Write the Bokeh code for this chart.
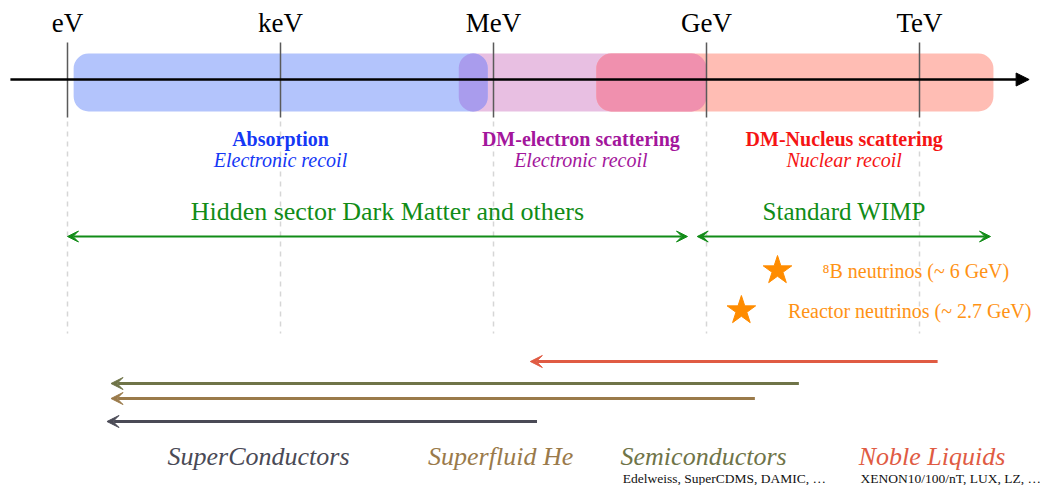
from bokeh.plotting import figure
from bokeh.models import Range1d, Arrow, NormalHead, VeeHead
from bokeh.embed import file_html
from bokeh.resources import INLINE
from bokeh.core.properties import value

# ---------------- data (energies in eV) ----------------
unit_labels = ["eV", "keV", "MeV", "GeV", "TeV"]
unit_energies = [1e0, 1e3, 1e6, 1e9, 1e12]

band_titles = ["Absorption", "DM-electron scattering", "DM-Nucleus scattering"]
band_subtitles = ["Electronic recoil", "Electronic recoil", "Nuclear recoil"]
band_lo = [1.22, 3.24e5, 2.8e7]
band_hi = [8.3e5, 1.0e9, 1.1e13]
band_label_center = [1.0e3, 1.7e7, 8.7e10]
overlap_lo = [3.24e5, 2.8e7]
overlap_hi = [8.3e5, 1.0e9]

model_labels = ["Hidden sector Dark Matter and others", "Standard WIMP"]
model_lo = [1.0, 7.4e8]
model_hi = [5.4e8, 1.0e13]
model_label_center = [3.2e4, 8.7e10]

neutrino_labels = ["\u2078B neutrinos (~ 6 GeV)", "Reactor neutrinos (~ 2.7 GeV)"]
neutrino_star = [1.0e10, 3.1e9]
neutrino_text = [4.3e10, 1.4e10]

detector_names = ["Noble Liquids", "Semiconductors", "Superfluid He", "SuperConductors"]
detector_hi = [1.8e12, 2.0e10, 4.8e9, 4.1e6]
detector_lo = [3.3e6, 4.1, 4.1, 3.6]
detector_label_center = [1.5e12, 9.1e8, 1.26e6, 490.0]
experiment_labels = ["Edelweiss, SuperCDMS, DAMIC, \u2026", "XENON10/100/nT, LUX, LZ, \u2026"]
experiment_left = [6.6e7, 1.48e11]

# ---------------- layout / style ----------------
SERIF = value("Liberation Serif")
W, H = 1040, 485
p = figure(width=W, height=H, x_axis_type="log",
           x_range=Range1d(10 ** (-67 / 71), 10 ** (973 / 71)),
           y_range=Range1d(H, 0),
           output_backend="svg", toolbar_location=None,
           min_border=0, outline_line_color=None)
p.xaxis.visible = False
p.yaxis.visible = False
p.xgrid.visible = False
p.ygrid.visible = False
p.background_fill_color = "white"

# dashed guides below the axis
p.segment(x0=unit_energies, x1=unit_energies, y0=[121] * 5, y1=[333] * 5,
          line_color="#d6d6d6", line_width=1.5, line_dash="5 5")

# bands
band_colors = ["#b3c4fc", "#e8bfe2", "#ffbdb4"]
band_order = [1, 0, 2]
p.quad(left=[band_lo[i] for i in band_order], right=[band_hi[i] for i in band_order],
       top=[53] * 3, bottom=[111] * 3,
       fill_color=[band_colors[i] for i in band_order], line_color=None, border_radius=15)
p.quad(left=overlap_lo, right=overlap_hi, top=[53] * 2, bottom=[111] * 2,
       fill_color=["#a99ced", "#f090ae"], line_color=None, border_radius=15)

# main axis
p.add_layout(Arrow(x_start=0.157, x_end=3.5e13, y_start=79, y_end=79,
                   line_color="black", line_width=2.5,
                   end=NormalHead(size=13, fill_color="black", line_color="black")))

# unit ticks
p.segment(x0=unit_energies, x1=unit_energies, y0=[42] * 5, y1=[117] * 5,
          line_color="#5a5a5a", line_width=1.5)
p.text(x=unit_energies, y=[22] * 5, text=unit_labels, text_font=SERIF,
       text_font_size="27px", text_color="black", text_align="center", text_baseline="middle")

# band descriptions
title_colors = ["#1437f5", "#a3169c", "#f51414"]
p.text(x=band_label_center, y=[138] * 3, text=band_titles, text_font=SERIF,
       text_font_style="bold", text_font_size="20px", text_color=title_colors,
       text_align="center", text_baseline="middle")
p.text(x=band_label_center, y=[159] * 3, text=band_subtitles, text_font=SERIF,
       text_font_style="italic", text_font_size="20px", text_color=title_colors,
       text_align="center", text_baseline="middle")

# model ranges
GREEN = "#118c17"
p.text(x=model_label_center, y=[211] * 2, text=model_labels, text_font=SERIF,
       text_font_size=["26px", "25px"], text_color=GREEN, text_align="center",
       text_baseline="middle")
for lo, hi in zip(model_lo, model_hi):
    p.add_layout(Arrow(x_start=lo, x_end=hi, y_start=236, y_end=236,
                       line_color=GREEN, line_width=2,
                       start=VeeHead(size=11, fill_color=GREEN, line_color=GREEN),
                       end=VeeHead(size=11, fill_color=GREEN, line_color=GREEN)))

# neutrino floors
ORANGE = "#ff8c00"
p.scatter(x=neutrino_star, y=[270, 310], marker="star", size=30,
          fill_color=ORANGE, line_color=ORANGE)
p.text(x=neutrino_text, y=[270, 310], text=neutrino_labels, text_font=SERIF,
       text_font_size="20px", text_color="#ff9214", text_align="left", text_baseline="middle")

# detector technologies
det_colors = ["#e05b43", "#6f7448", "#9a7a4a", "#4a4a56"]
det_y = [361, 383, 398, 421]
for hi, lo, yy, c in zip(detector_hi, detector_lo, det_y, det_colors):
    p.add_layout(Arrow(x_start=hi, x_end=lo, y_start=yy, y_end=yy,
                       line_color=c, line_width=3,
                       end=VeeHead(size=12, fill_color=c, line_color=c)))
p.text(x=detector_label_center, y=[456] * 4, text=detector_names, text_font=SERIF,
       text_font_style="italic", text_font_size="26px", text_color=det_colors,
       text_align="center", text_baseline="middle")
p.text(x=experiment_left, y=[478] * 2, text=experiment_labels, text_font=SERIF,
       text_font_size="13.5px", text_color="#111111", text_align="left", text_baseline="middle")

open("out.html", "w").write(file_html(p, INLINE))
